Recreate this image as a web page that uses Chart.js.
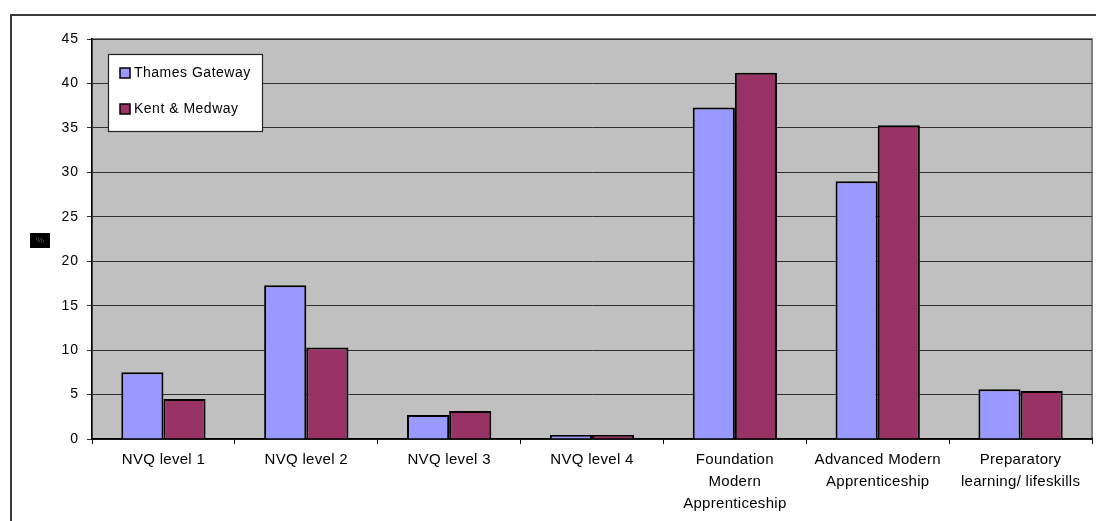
<!DOCTYPE html>
<html>
<head>
<meta charset="utf-8">
<script src="https://cdn.jsdelivr.net/npm/chart.js@4.4.1/dist/chart.umd.min.js"></script>
<style>
html,body{margin:0;padding:0;background:#fff;}
#wrap{position:relative;width:1096px;height:521px;}
</style>
</head>
<body>
<div id="wrap"><canvas id="c" width="1096" height="521"></canvas></div>
<script>
const categories = [
  "NVQ level 1",
  "NVQ level 2",
  "NVQ level 3",
  "NVQ level 4",
  ["Foundation", "Modern", "Apprenticeship"],
  ["Advanced Modern", "Apprenticeship"],
  ["Preparatory", "learning/ lifeskills"]
];
const seriesNames = ["Thames Gateway", "Kent & Medway"];
const thamesGateway = [7.5, 17.3, 2.7, 0.45, 37.3, 29.0, 5.6];
const kentMedway = [4.5, 10.3, 3.15, 0.45, 41.2, 35.3, 5.4];
const yTicks = { min: 0, max: 45, step: 5 };
const yAxisTitle = "%";

const spacingPlugin = {
  id: 'spacing',
  afterLayout(chart) {
    const wrap = (scale, sp) => {
      if (scale._wrapped) return;
      const orig = scale.drawLabels.bind(scale);
      scale.drawLabels = function(area) {
        const ctx = chart.ctx;
        const prev = ctx.letterSpacing;
        ctx.letterSpacing = sp;
        orig(area);
        ctx.letterSpacing = prev;
      };
      scale._wrapped = true;
    };
    wrap(chart.scales.x, '0.3px');
    wrap(chart.scales.y, '1px');
  }
};

const bgPlugin = {
  id: 'bg',
  beforeDraw(chart) {
    const ctx = chart.ctx;
    const a = chart.chartArea;
    ctx.save();
    ctx.fillStyle = '#fff';
    ctx.fillRect(0, 0, chart.width, chart.height);
    ctx.strokeStyle = '#3a3a3a';
    ctx.lineWidth = 2;
    ctx.strokeRect(11, 15, 1200, 700);
    ctx.fillStyle = '#C0C0C0';
    ctx.fillRect(a.left, a.top, a.right - a.left, a.bottom - a.top);
    ctx.strokeStyle = '#808080';
    ctx.lineWidth = 2;
    ctx.strokeRect(a.left, a.top, a.right - a.left, a.bottom - a.top);
    ctx.fillStyle = '#000';
    ctx.fillRect(30, 233, 20, 15);
    ctx.fillStyle = '#555';
    ctx.font = '9px Arial';
    ctx.textAlign = 'center';
    ctx.textBaseline = 'middle';
    ctx.fillText(yAxisTitle, 40, 241);
    ctx.restore();
  },
  afterDraw(chart) {
    const ctx = chart.ctx;
    ctx.save();
    const x = 108, y = 54, w = 154, h = 77;
    ctx.fillStyle = '#fff';
    ctx.fillRect(x, y, w, h);
    ctx.strokeStyle = '#222';
    ctx.lineWidth = 1.2;
    ctx.strokeRect(x + 0.5, y + 0.5, w, h);
    ctx.font = '14px Arial';
    ctx.letterSpacing = '0.5px';
    ctx.textBaseline = 'middle';
    ctx.textAlign = 'left';
    chart.data.datasets.forEach((ds, i) => {
      const cy = 73 + i * 36;
      ctx.fillStyle = ds.backgroundColor;
      ctx.fillRect(120, cy - 5, 10, 10);
      ctx.strokeStyle = '#000';
      ctx.lineWidth = 1.5;
      ctx.strokeRect(120, cy - 5, 10, 10);
      ctx.fillStyle = '#000';
      ctx.fillText(ds.label, 134, cy);
    });
    ctx.restore();
  }
};

new Chart(document.getElementById('c'), {
  type: 'bar',
  data: {
    labels: categories,
    datasets: [
      { label: seriesNames[0], data: thamesGateway, backgroundColor: '#9999FF', borderColor: '#000', borderWidth: 2 },
      { label: seriesNames[1], data: kentMedway, backgroundColor: '#993366', borderColor: '#000', borderWidth: 2 }
    ]
  },
  options: {
    responsive: false,
    animation: false,
    layout: { padding: { left: 0, top: 39, right: 4, bottom: 0 } },
    plugins: { legend: { display: false }, tooltip: { enabled: false }, title: { display: false } },
    datasets: { bar: { categoryPercentage: 0.59, barPercentage: 1.0 } },
    scales: {
      x: {
        grid: { display: true, drawOnChartArea: false, drawTicks: true, tickLength: 5, color: '#000', offset: true },
        border: { display: true, color: '#000', width: 1.5 },
        ticks: { color: '#000', font: { family: 'Arial', size: 15, lineHeight: 1.47 }, padding: 5, maxRotation: 0, autoSkip: false },
        afterFit(s) { s.height = 82; }
      },
      y: {
        min: yTicks.min, max: yTicks.max,
        grid: { color: '#2e2e2e', lineWidth: 1, tickLength: 5, drawTicks: true },
        border: { display: true, color: '#000', width: 1.5 },
        ticks: { stepSize: yTicks.step, color: '#000', font: { family: 'Arial', size: 14 }, padding: 8 },
        afterFit(s) { s.width = 92; }
      }
    }
  },
  plugins: [spacingPlugin, bgPlugin]
});
</script>
</body>
</html>
